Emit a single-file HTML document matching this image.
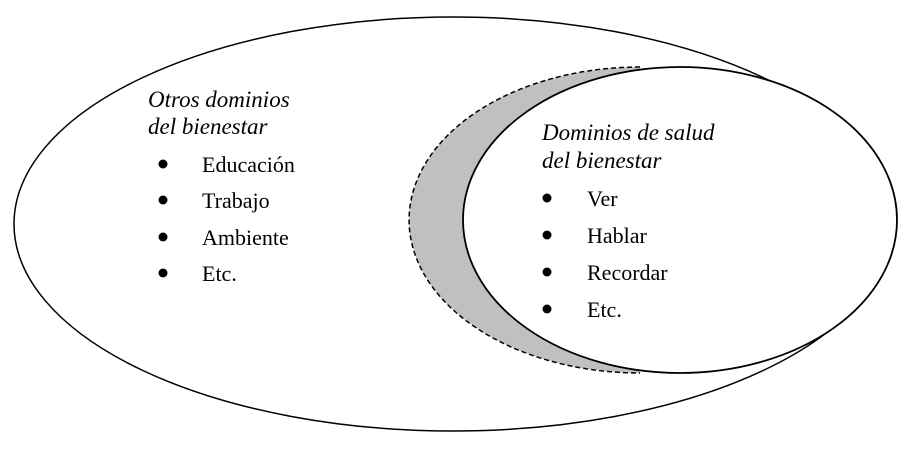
<!DOCTYPE html>
<html><head><meta charset="utf-8"><style>
html,body{margin:0;padding:0;background:#fff;width:910px;height:450px;overflow:hidden}
svg{display:block}
text{font-family:"Liberation Serif",serif;font-size:22px;fill:#000}
.i{font-style:italic;font-size:23px}
</style></head><body>
<svg width="910" height="450" viewBox="0 0 910 450">
<ellipse cx="453" cy="224" rx="439" ry="207" fill="#fff" stroke="#000" stroke-width="1.5"/>
<path d="M640 67 A231 153 0 0 0 640 373" fill="#c0c0c0" stroke="#000" stroke-width="1.5" stroke-dasharray="5,3"/>
<ellipse cx="680" cy="220" rx="217" ry="153" fill="#fff" stroke="#000" stroke-width="1.8"/>
<text class="i" x="148" y="107">Otros dominios</text>
<text class="i" x="148" y="134">del bienestar</text>
<circle cx="163" cy="164" r="4.5"/><text x="202" y="172">Educación</text>
<circle cx="163" cy="200" r="4.5"/><text x="202" y="208">Trabajo</text>
<circle cx="163" cy="237" r="4.5"/><text x="202" y="245">Ambiente</text>
<circle cx="163" cy="273" r="4.5"/><text x="202" y="281">Etc.</text>
<text class="i" x="542" y="140">Dominios de salud</text>
<text class="i" x="542" y="168">del bienestar</text>
<circle cx="547" cy="198" r="4.5"/><text x="587" y="206">Ver</text>
<circle cx="547" cy="235" r="4.5"/><text x="587" y="243">Hablar</text>
<circle cx="547" cy="272" r="4.5"/><text x="587" y="280">Recordar</text>
<circle cx="547" cy="309" r="4.5"/><text x="587" y="317">Etc.</text>
</svg>
</body></html>
